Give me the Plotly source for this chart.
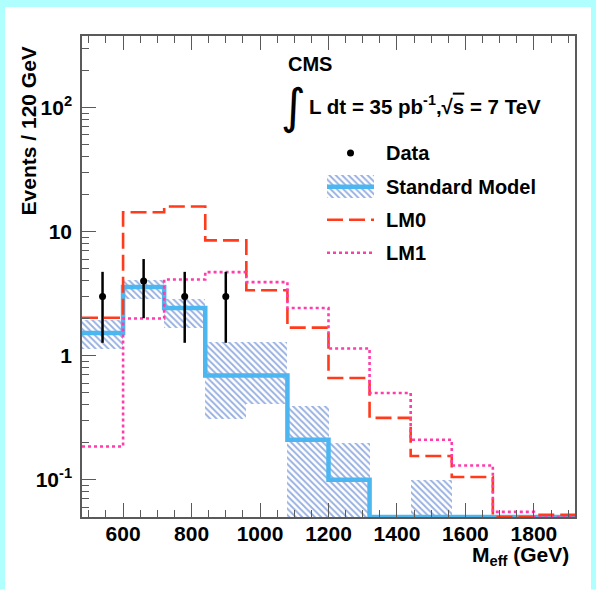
import numpy as np
import plotly.graph_objects as go

# ---- histogram content (120 GeV bins) ----
bin_edges = [480, 600, 720, 840, 960, 1080, 1200, 1320, 1440, 1560, 1680, 1800, 1920]
data_counts = [3, 4, 3, 3, 0, 0, 0, 0, 0, 0, 0, 0]
sm_values = [1.52, 3.57, 2.42, 0.69, 0.69, 0.21, 0.10, 0, 0, 0, 0, 0]
sm_band_hi = [1.92, 4.09, 2.84, 1.29, 1.29, 0.39, 0.198, None, 0.10, None, None, None]
sm_band_lo = [1.12, 2.88, 1.68, 0.307, 0.41, 0, 0, None, 0, None, None, None]
lm0_values = [2.02, 14.3, 15.9, 8.48, 3.36, 1.68, 0.66, 0.315, 0.155, 0.105, 0, 0.052]
lm1_values = [0.185, 1.99, 4.11, 4.71, 3.91, 2.42, 1.14, 0.50, 0.21, 0.13, 0.055, 0.05]

legend_labels = ["Data", "Standard Model", "LM0", "LM1"]
y_tickvals = [0.1, 1, 10, 100]
y_ticktext = ["10<sup>-1</sup>", "1", "10", "10<sup>2</sup>"]

Y_MIN, Y_MAX_LOG = 0.05, 2.576
X_RANGE = [480, 1920]

# colours
SM_LINE = "#4cb6f0"
SM_HATCH = "#2f60c2"
LM0_COL = "#ff3b1c"
LM1_COL = "#ff3caa"
AXIS_COL = "#5a5a5a"
FONT = "Liberation Sans, Arial, sans-serif"

# page geometry (px)
W, H = 596, 590
PL, PR, PT, PB = 82, 575, 36, 517.5


def px_x(px):
    return (px - PL) / (PR - PL)


def px_y(py):
    return (PB - py) / (PB - PT)


edges = np.array(bin_edges, dtype=float)
centers = 0.5 * (edges[:-1] + edges[1:])
widths = np.diff(edges)


def step_xy(vals):
    v = [max(val, Y_MIN) for val in vals]
    return list(edges), v + [v[-1]]


HATCH = dict(shape="\\", fgcolor=SM_HATCH, bgcolor="rgba(0,0,0,0)", size=4.5, solidity=0.42)

fig = go.Figure()

# SM uncertainty band (hatched)
band_x, band_base, band_h, band_w = [], [], [], []
for c, w, lo, hi in zip(centers, widths, sm_band_lo, sm_band_hi):
    if hi is None:
        continue
    b = max(lo, Y_MIN)
    band_x.append(c)
    band_base.append(b)
    band_h.append(hi - b)
    band_w.append(w)

fig.add_trace(go.Bar(
    x=band_x, y=band_h, base=band_base, width=band_w,
    marker=dict(color="rgba(0,0,0,0)", line=dict(width=0), pattern=HATCH),
    showlegend=False, hoverinfo="skip"))

# Standard Model histogram
sx, sy = step_xy(sm_values)
fig.add_trace(go.Scatter(x=sx, y=sy, mode="lines", line=dict(color=SM_LINE, width=4.5, shape="hv"),
                         showlegend=False))

# LM0
lx, ly = step_xy(lm0_values)
fig.add_trace(go.Scatter(x=lx, y=ly, mode="lines",
                         line=dict(color=LM0_COL, width=2.6, shape="hv", dash="16px,6px"),
                         showlegend=False))

# LM1
mx, my = step_xy(lm1_values)
fig.add_trace(go.Scatter(x=mx, y=my, mode="lines",
                         line=dict(color=LM1_COL, width=2.6, shape="hv", dash="3px,3px"),
                         showlegend=False))

# Data with sqrt(N) errors
dc = np.array(data_counts, dtype=float)
sel = dc > 0
fig.add_trace(go.Scatter(
    x=centers[sel], y=dc[sel], mode="markers",
    marker=dict(color="black", size=7),
    error_y=dict(type="data", array=np.sqrt(dc[sel]), color="black", thickness=2.5, width=0),
    showlegend=False))

# ---- legend glyphs on an overlay pixel-space axis ----
leg_rows = [153, 187, 220, 253]
gx0, gx1 = 327 - PL, 374 - PL
gxc = 0.5 * (gx0 + gx1)
fig.add_trace(go.Scatter(x=[gxc], y=[leg_rows[0] - PT], mode="markers", marker=dict(color="black", size=7),
                         xaxis="x2", yaxis="y2", showlegend=False))
fig.add_trace(go.Bar(x=[gxc], y=[23], base=[leg_rows[1] - PT - 11.5], width=[gx1 - gx0],
                     marker=dict(color="rgba(0,0,0,0)", line=dict(width=0), pattern=HATCH),
                     xaxis="x2", yaxis="y2", showlegend=False))
fig.add_trace(go.Scatter(x=[gx0, gx1], y=[leg_rows[1] - PT] * 2, mode="lines",
                         line=dict(color=SM_LINE, width=4.5), xaxis="x2", yaxis="y2", showlegend=False))
fig.add_trace(go.Scatter(x=[gx0, gx1], y=[leg_rows[2] - PT] * 2, mode="lines",
                         line=dict(color=LM0_COL, width=2.6, dash="16px,6px"),
                         xaxis="x2", yaxis="y2", showlegend=False))
fig.add_trace(go.Scatter(x=[gx0, gx1], y=[leg_rows[3] - PT] * 2, mode="lines",
                         line=dict(color=LM1_COL, width=2.6, dash="3px,3px"),
                         xaxis="x2", yaxis="y2", showlegend=False))

annotations = []
for lab, row in zip(legend_labels, leg_rows):
    annotations.append(dict(text=lab, x=px_x(384), y=px_y(row), xref="paper", yref="paper",
                            xanchor="left", yanchor="middle", showarrow=False,
                            font=dict(family=FONT, size=20, color="black", weight="bold")))

annotations += [
    dict(text="CMS", x=px_x(286), y=px_y(64), xref="paper", yref="paper",
         xanchor="left", yanchor="middle", showarrow=False,
         font=dict(family=FONT, size=20, color="black", weight="bold")),
    dict(text="∫", x=px_x(293), y=px_y(106), xref="paper", yref="paper",
         xanchor="center", yanchor="middle", showarrow=False,
         font=dict(family="DejaVu Sans", size=48, color="black")),
    dict(text="L dt = 35 pb<sup>-1</sup>,√<span style='text-decoration:overline'>s</span> = 7 TeV",
         x=px_x(307), y=px_y(105), xref="paper", yref="paper",
         xanchor="left", yanchor="middle", showarrow=False,
         font=dict(family=FONT, size=20.5, color="black", weight="bold")),
    dict(text="Events / 120 GeV", x=px_x(28.5), y=px_y(131), xref="paper", yref="paper",
         xanchor="center", yanchor="middle", textangle=-90, showarrow=False,
         font=dict(family=FONT, size=21, color="black", weight="bold")),
    dict(text="M<sub>eff</sub> (GeV)", x=px_x(571), y=px_y(542), xref="paper", yref="paper",
         xanchor="right", yanchor="top", showarrow=False,
         font=dict(family=FONT, size=21, color="black", weight="bold")),
]

# decorative cyan page border
shapes = [
    dict(type="rect", xref="paper", yref="paper", x0=px_x(0), x1=px_x(W), y0=px_y(7), y1=px_y(0),
         fillcolor="#b0ffff", line=dict(width=0), layer="below"),
    dict(type="rect", xref="paper", yref="paper", x0=px_x(0), x1=px_x(5), y0=px_y(H), y1=px_y(0),
         fillcolor="#b0ffff", line=dict(width=0), layer="below"),
    dict(type="rect", xref="paper", yref="paper", x0=px_x(591), x1=px_x(W), y0=px_y(H), y1=px_y(0),
         fillcolor="#b0ffff", line=dict(width=0), layer="below"),
]

fig.update_layout(
    width=W, height=H,
    margin=dict(l=PL, r=W - PR, t=PT, b=H - PB, pad=0),
    paper_bgcolor="white", plot_bgcolor="white",
    showlegend=False, bargap=0,
    annotations=annotations, shapes=shapes,
    xaxis=dict(range=X_RANGE, showgrid=False, zeroline=False,
               showline=True, linecolor=AXIS_COL, linewidth=1.5, mirror="ticks",
               ticks="inside", ticklen=14, tickwidth=1.2, tickcolor=AXIS_COL,
               tick0=0, dtick=200,
               minor=dict(ticks="inside", ticklen=7, tickwidth=1.2, tickcolor=AXIS_COL, dtick=50, showgrid=False),
               tickfont=dict(family=FONT, size=21, color="black", weight="bold"),
               ticklabelstandoff=-3),
    yaxis=dict(type="log", range=[np.log10(Y_MIN), Y_MAX_LOG], showgrid=False, zeroline=False,
               showline=True, linecolor=AXIS_COL, linewidth=1.5, mirror=True,
               ticks="inside", ticklen=14, tickwidth=1.2, tickcolor=AXIS_COL,
               tickvals=y_tickvals, ticktext=y_ticktext,
               minor=dict(ticks="inside", ticklen=7, tickwidth=1.2, tickcolor=AXIS_COL, dtick="D1", showgrid=False),
               tickfont=dict(family=FONT, size=21, color="black", weight="bold"),
               ticklabelstandoff=4),
    xaxis2=dict(range=[0, PR - PL], overlaying="x", visible=False, fixedrange=True),
    yaxis2=dict(range=[PB - PT, 0], overlaying="y", visible=False, fixedrange=True),
)

fig.write_html("out.html")
